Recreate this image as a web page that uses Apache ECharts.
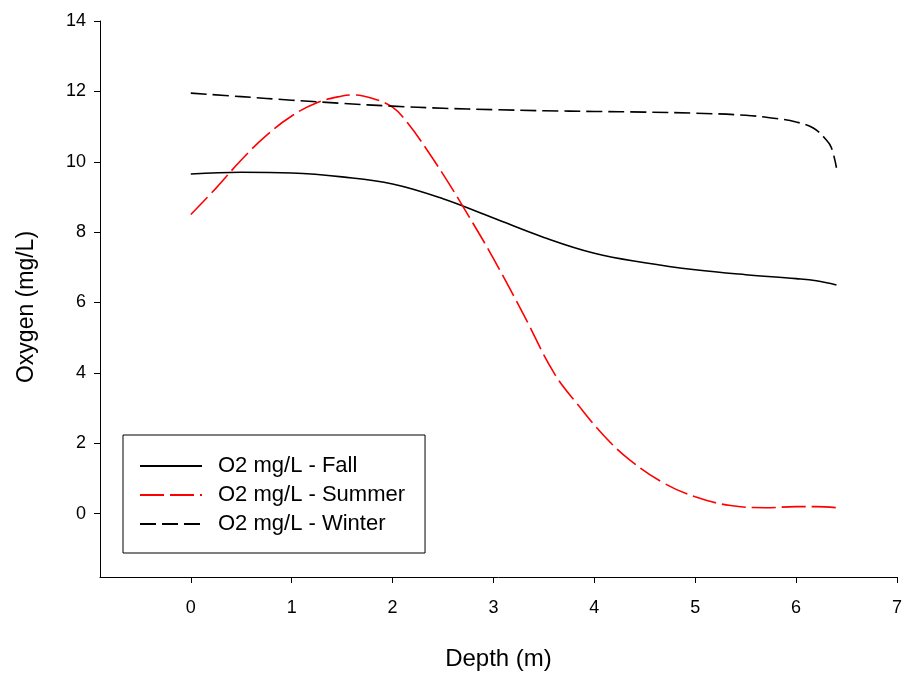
<!DOCTYPE html>
<html>
<head>
<meta charset="utf-8">
<script src="https://cdn.jsdelivr.net/npm/echarts@6.0.0/dist/echarts.min.js"></script>
<style>
html,body{margin:0;padding:0;background:#fff;}
#chart{width:904px;height:673px;}
</style>
</head>
<body>
<div id="chart"></div>
<script>
var xTicks = [0, 1, 2, 3, 4, 5, 6, 7];
var yTicks = [0, 2, 4, 6, 8, 10, 12, 14];

var fallDepth = [0, 0.5, 1, 1.5, 2, 2.5, 3, 3.5, 4, 4.5, 5, 5.5, 6, 6.2, 6.4];
var fallO2    = [9.65, 9.7, 9.68, 9.57, 9.37, 8.95, 8.4, 7.85, 7.4, 7.13, 6.93, 6.79, 6.68, 6.62, 6.5];

var summerDepth = [0, 0.25, 0.5, 0.75, 1, 1.25, 1.5, 1.62, 1.8, 2, 2.15, 2.35, 2.55, 2.7, 3, 3.3, 3.6, 3.85, 4.1, 4.35, 4.7, 5, 5.35, 5.7, 6, 6.2, 6.4];
var summerO2    = [8.5, 9.25, 10.05, 10.75, 11.3, 11.68, 11.87, 11.9, 11.8, 11.55, 11.1, 10.3, 9.42, 8.72, 7.25, 5.65, 4.0, 3.05, 2.2, 1.53, 0.85, 0.48, 0.23, 0.17, 0.2, 0.2, 0.17];

var winterDepth = [0, 0.5, 1, 1.5, 2, 2.5, 3, 3.5, 4, 4.5, 5, 5.5, 5.8, 6, 6.17, 6.3, 6.35, 6.4];
var winterO2    = [11.95, 11.85, 11.75, 11.66, 11.58, 11.52, 11.48, 11.45, 11.43, 11.41, 11.38, 11.32, 11.23, 11.13, 10.96, 10.62, 10.4, 9.83];

function pairs(xs, ys) { return xs.map(function (x, i) { return [x, ys[i]]; }); }

var FONT = 'Liberation Sans, Arial, sans-serif';
var chart = echarts.init(document.getElementById('chart'), null, {renderer: 'canvas'});
chart.setOption({
  backgroundColor: '#fff',
  animation: false,
  textStyle: {fontFamily: FONT, color: '#000'},
  grid: {left: 100, right: 7, top: 21, bottom: 96, containLabel: false, outerBoundsMode: 'none'},
  legend: {
    orient: 'vertical',
    left: 123, top: 435,
    padding: [20, 20, 18, 16],
    borderColor: '#000', borderWidth: 1,
    itemWidth: 62, itemHeight: 14, itemGap: 7,
    itemStyle: {opacity: 0},
    textStyle: {fontFamily: FONT, fontSize: 22, color: '#000', padding: [0, 0, 0, 11]},
    data: ['O2 mg/L - Fall', 'O2 mg/L - Summer', 'O2 mg/L - Winter']
  },
  xAxis: {
    type: 'value', min: -0.9, max: 7,
    name: 'Depth (m)', nameLocation: 'middle', nameGap: 70,
    nameTextStyle: {fontFamily: FONT, fontSize: 24, color: '#000'},
    axisLine: {show: true, onZero: false, lineStyle: {color: '#000', width: 1}},
    axisTick: {show: true, inside: false, length: 6, customValues: xTicks, lineStyle: {color: '#000'}},
    axisLabel: {customValues: xTicks, fontFamily: FONT, fontSize: 18, color: '#000', margin: 22},
    splitLine: {show: false}
  },
  yAxis: {
    type: 'value', min: -1.8, max: 14,
    name: 'Oxygen (mg/L)', nameLocation: 'middle', nameGap: 62,
    nameTextStyle: {fontFamily: FONT, fontSize: 23, color: '#000', padding: [0, 16, 0, 0]},
    axisLine: {show: true, onZero: false, lineStyle: {color: '#000', width: 1}},
    axisTick: {show: true, inside: false, length: 6, customValues: yTicks, lineStyle: {color: '#000'}},
    axisLabel: {customValues: yTicks, fontFamily: FONT, fontSize: 18, color: '#000', margin: 14},
    splitLine: {show: false}
  },
  series: [
    {name: 'O2 mg/L - Fall', type: 'line', data: pairs(fallDepth, fallO2), smooth: 0.4,
     symbol: 'none', color: '#000', lineStyle: {color: '#000', width: 1.6, type: 'solid'}},
    {name: 'O2 mg/L - Summer', type: 'line', data: pairs(summerDepth, summerO2), smooth: 0.4,
     symbol: 'none', color: '#ff0000', lineStyle: {color: '#ff0000', width: 1.6, type: [24, 6]}},
    {name: 'O2 mg/L - Winter', type: 'line', data: pairs(winterDepth, winterO2), smooth: 0.4,
     symbol: 'none', color: '#000', lineStyle: {color: '#000', width: 1.6, type: [16, 6]}}
  ]
});
</script>
</body>
</html>
